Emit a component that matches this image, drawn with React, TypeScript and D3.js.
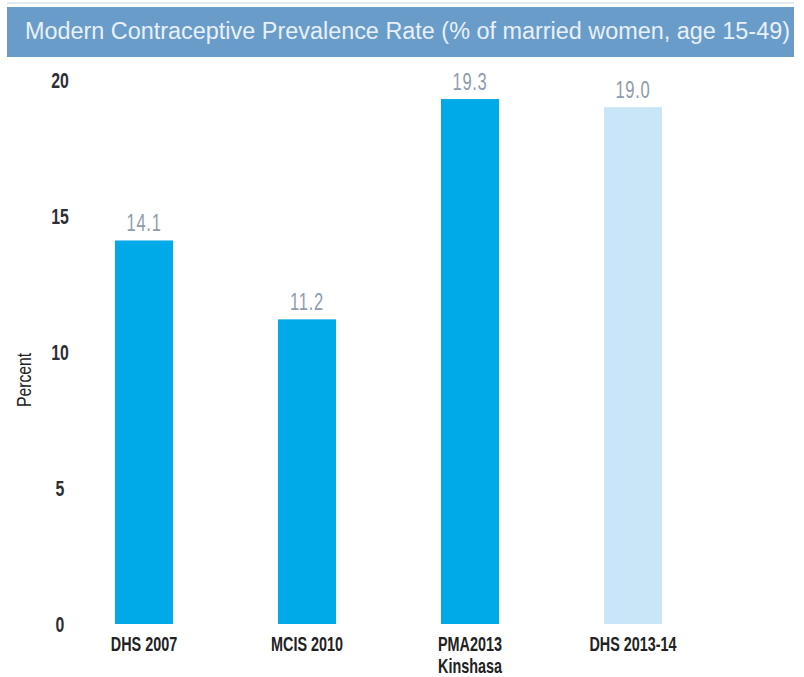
import React from "react";
import * as d3 from "d3";

const title = "Modern Contraceptive Prevalence Rate (% of married women, age 15-49)";
const yLabel = "Percent";
const categories = ["DHS 2007", "MCIS 2010", "PMA2013|Kinshasa", "DHS 2013-14"];
const values = [14.1, 11.2, 19.3, 19.0];
const barFill = ["#00a9e8", "#00a9e8", "#00a9e8", "#c8e6f7"];
const yTicks = [0, 5, 10, 15, 20];

const W = 804;
const H = 677;
const FONT = "'Liberation Sans', Arial, sans-serif";

type CTextProps = {
  x: number;
  y: number;
  sx: number;
  rotate?: number;
  children: React.ReactNode;
  [k: string]: any;
};

function CText({ x, y, sx, rotate = 0, children, ...rest }: CTextProps) {
  return (
    <text
      transform={`translate(${x},${y}) rotate(${rotate}) scale(${sx},1)`}
      {...rest}
    >
      {children}
    </text>
  );
}

export default function App() {
  const x = d3
    .scaleBand<string>()
    .domain(categories)
    .range([33.5, 743.5])
    .paddingInner(0.644)
    .paddingOuter(0.5);
  const y = d3.scaleLinear().domain([0, 20]).range([624, 80]);
  const fmt = d3.format(".1f");

  return (
    <svg
      width={W}
      height={H}
      style={{ position: "absolute", left: 0, top: 0, background: "#fff" }}
      fontFamily={FONT}
    >
      <rect x={0} y={0} width={W} height={H} fill="#fff" />
      <rect x={7} y={2} width={787} height={2} fill="#e3e9ef" />
      <rect x={7} y={7} width={787} height={50} fill="#6a9cca" />
      <text
        x={25}
        y={39}
        fontSize={23}
        fill="#e8f0f8"
        textLength={765}
        lengthAdjust="spacingAndGlyphs"
      >
        {title}
      </text>

      {yTicks.map((t) => (
        <CText
          key={t}
          x={60}
          y={y(t) + 8}
          sx={0.72}
          textAnchor="middle"
          fontSize={22}
          fontWeight="bold"
          fill="#2e2e36"
        >
          {t}
        </CText>
      ))}

      <CText
        x={31}
        y={380}
        sx={0.75}
        rotate={-90}
        textAnchor="middle"
        fontSize={21}
        fill="#222"
      >
        {yLabel}
      </CText>

      {categories.map((c, i) => {
        const bx = x(c)!;
        const cx = bx + x.bandwidth() / 2;
        const top = y(values[i]);
        const lines = c.split("|");
        return (
          <g key={c}>
            <rect
              x={bx}
              y={top}
              width={x.bandwidth()}
              height={y(0) - top}
              fill={barFill[i]}
            />
            <CText
              x={cx}
              y={top - 9}
              sx={0.72}
              textAnchor="middle"
              fontSize={23}
              fill="#8f9bad"
              letterSpacing={1}
            >
              {fmt(values[i])}
            </CText>
            {lines.map((ln, j) => (
              <CText
                key={j}
                x={cx}
                y={651 + j * 22}
                sx={0.72}
                textAnchor="middle"
                fontSize={20}
                fontWeight="bold"
                fill="#222"
              >
                {ln}
              </CText>
            ))}
          </g>
        );
      })}
    </svg>
  );
}
